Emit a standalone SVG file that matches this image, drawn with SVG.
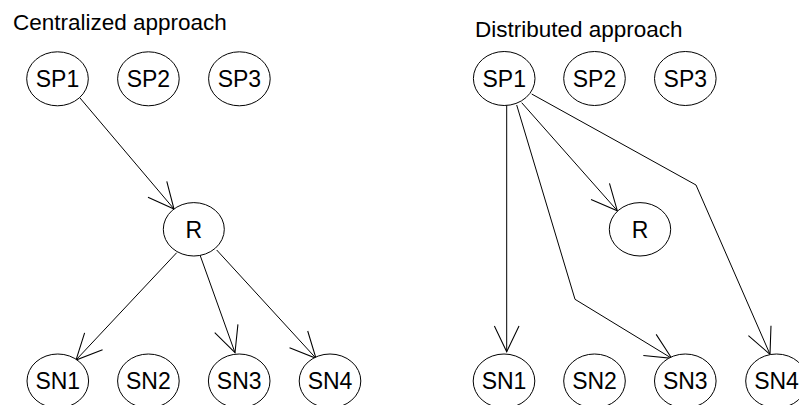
<svg xmlns="http://www.w3.org/2000/svg" width="799" height="405" viewBox="0 0 799 405">
<style>
  .node ellipse { fill: #fff; stroke: #000; stroke-width: 1; }
  .node text, .title { font-family: "Liberation Sans", Arial, sans-serif; fill: #000; }
  .title { font-size: 22.5px; }
  .node text { font-size: 23px; text-anchor: middle; }
  .edges path { fill: none; stroke: #000; stroke-width: 1; marker-end: url(#arr); }
</style>
<defs>
  <marker id="arr" markerUnits="userSpaceOnUse" markerWidth="30" markerHeight="30" viewBox="-26 -13 28 26" refX="0" refY="0" orient="auto">
    <path d="M-24,-11.5 L0,0 L-24,11.5" fill="none" stroke="#000" stroke-width="1"/>
  </marker>
</defs>
<rect width="799" height="405" fill="#fff"/>
<text class="title" x="13" y="29.5">Centralized approach</text>
<text class="title" x="475" y="37">Distributed approach</text>

<g class="edges" id="edges">
  <path d="M80,98 L174,209"/>
  <path d="M176.7,252.7 L76,360"/>
  <path d="M200,255 L235,352.7"/>
  <path d="M216.7,250 L316,358.3"/>
  <path d="M506.7,105 L506.7,351.7"/>
  <path d="M516.7,105 L575,299.3 L671.7,358.3"/>
  <path d="M521.7,102.7 L617.3,210.7"/>
  <path d="M531.7,94 L696,185 L770,354.3"/>
</g>

<g class="node" id="c-sp1"><ellipse cx="57.5" cy="78.8" rx="30.8" ry="27"/><text x="57.5" y="87">SP1</text></g>
<g class="node" id="c-sp2"><ellipse cx="148.4" cy="78.8" rx="30.8" ry="27"/><text x="148.4" y="87">SP2</text></g>
<g class="node" id="c-sp3"><ellipse cx="239.4" cy="78.8" rx="30.8" ry="27"/><text x="239.4" y="87">SP3</text></g>
<g class="node" id="c-r"><ellipse cx="193.8" cy="229.3" rx="30.5" ry="26.7"/><text x="193.8" y="237.5">R</text></g>
<g class="node" id="c-sn1"><ellipse cx="57.8" cy="381" rx="30.8" ry="27"/><text x="57.8" y="389.2">SN1</text></g>
<g class="node" id="c-sn2"><ellipse cx="148.4" cy="381" rx="30.8" ry="27"/><text x="148.4" y="389.2">SN2</text></g>
<g class="node" id="c-sn3"><ellipse cx="239.2" cy="381" rx="30.8" ry="27"/><text x="239.2" y="389.2">SN3</text></g>
<g class="node" id="c-sn4"><ellipse cx="330" cy="381" rx="30.8" ry="27"/><text x="330" y="389.2">SN4</text></g>

<g class="node" id="d-sp1"><ellipse cx="504.2" cy="78.5" rx="30.8" ry="27"/><text x="504.2" y="86.7">SP1</text></g>
<g class="node" id="d-sp2"><ellipse cx="594.5" cy="78.5" rx="30.8" ry="27"/><text x="594.5" y="86.7">SP2</text></g>
<g class="node" id="d-sp3"><ellipse cx="685.3" cy="78.5" rx="30.8" ry="27"/><text x="685.3" y="86.7">SP3</text></g>
<g class="node" id="d-r"><ellipse cx="640" cy="229.3" rx="30.7" ry="26.7"/><text x="640" y="237.5">R</text></g>
<g class="node" id="d-sn1"><ellipse cx="504" cy="381" rx="30.8" ry="27"/><text x="504" y="389.2">SN1</text></g>
<g class="node" id="d-sn2"><ellipse cx="594.5" cy="381" rx="30.8" ry="27"/><text x="594.5" y="389.2">SN2</text></g>
<g class="node" id="d-sn3"><ellipse cx="685.3" cy="381" rx="30.8" ry="27"/><text x="685.3" y="389.2">SN3</text></g>
<g class="node" id="d-sn4"><ellipse cx="776.5" cy="381" rx="30.8" ry="27"/><text x="776.5" y="389.2">SN4</text></g>
</svg>
